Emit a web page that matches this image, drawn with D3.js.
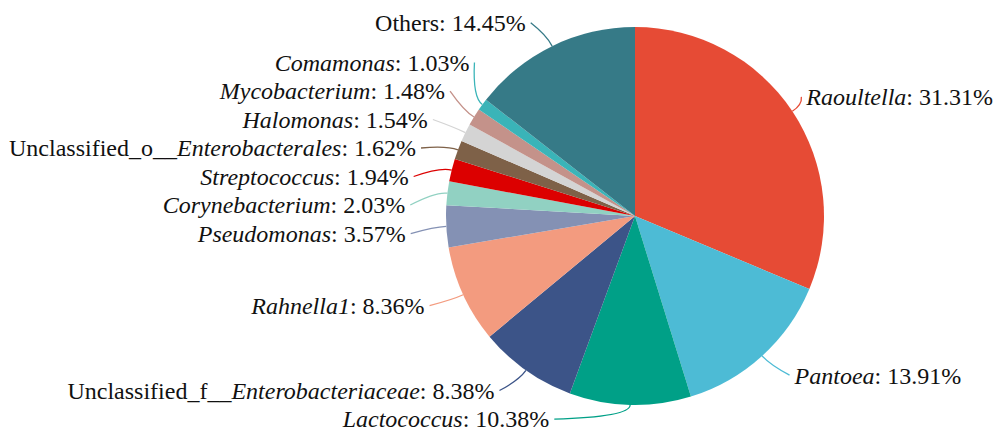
<!DOCTYPE html>
<html>
<head>
<meta charset="utf-8">
<script src="https://cdn.jsdelivr.net/npm/d3@7"></script>
<style>
  body { margin: 0; background: #fff; }
  text { font-family: "Liberation Serif", "Times New Roman", serif; }
</style>
</head>
<body>
<svg id="chart"></svg>
<script>
var width = 997, height = 431

// data, clockwise from 12 o'clock
var genera = ["Raoultella", "Pantoea", "Lactococcus", "Unclassified_f__Enterobacteriaceae",
    "Rahnella1", "Pseudomonas", "Corynebacterium", "Streptococcus",
    "Unclassified_o__Enterobacterales", "Halomonas", "Mycobacterium", "Comamonas", "Others"]
var percents = [31.31, 13.91, 10.38, 8.38, 8.36, 3.57, 2.03, 1.94, 1.62, 1.54, 1.48, 1.03, 14.45]
var colors = ["#E64B35", "#4DBBD5", "#00A087", "#3C5488", "#F39B7F", "#8491B4", "#91D1C2",
    "#DC0000", "#7E6148", "#D4D4D4", "#C4928A", "#3AB4B8", "#367A87"]

var cx = 635, cy = 216, r = 189
var labelR = 215, len1 = 12, len2 = 15, gap = 28.5
var fontSize = 24

var svg = d3.select("#chart")
    .attr("width", width)
    .attr("height", height)

var pie = d3.pie().sort(null).value(function(d) { return d })
var arcs = pie(percents)
var arc = d3.arc().innerRadius(0).outerRadius(r)

var g = svg.append("g").attr("transform", "translate(" + cx + "," + cy + ")")

g.selectAll("path.slice")
    .data(arcs)
    .enter()
    .append("path")
        .attr("class", "slice")
        .attr("d", arc)
        .attr("fill", function(d, i) { return colors[i] })

// label layout
var labels = arcs.map(function(d, i) {
    var a = (d.startAngle + d.endAngle) / 2
    return {
        i: i,
        a: a,
        left: Math.sin(a) < 0,
        y0: -labelR * Math.cos(a)
    }
})

// push overlapping labels apart, moving them as little as possible
function spread(items) {
    var top = 14 - cy, bottom = 418 - cy
    items.sort(function(a, b) { return a.y0 - b.y0 })
    var blocks = []
    items.forEach(function(it) {
        var y = Math.max(top, Math.min(bottom, it.y0))
        blocks.push({ items: [it], sum: y })
        while (blocks.length > 1) {
            var a = blocks[blocks.length - 2], c = blocks[blocks.length - 1]
            var aEnd = a.sum / a.items.length + (a.items.length - 1) * gap
            if (c.sum / c.items.length - aEnd >= gap) break
            a.sum += c.sum - c.items.length * a.items.length * gap
            a.items = a.items.concat(c.items)
            blocks.pop()
        }
    })
    blocks.forEach(function(b) {
        var start = b.sum / b.items.length
        b.items.forEach(function(it, k) { it.y = start + k * gap })
    })
}
spread(labels.filter(function(d) { return d.left }))
spread(labels.filter(function(d) { return !d.left }))

var txt = g.selectAll("text.lab")
    .data(labels)
    .enter()
    .append("text")
        .attr("class", "lab")
        .attr("y", function(d) { return d.y })
        .attr("dy", "0.35em")
        .attr("text-anchor", function(d) { return d.left ? "end" : "start" })
        .style("font-size", fontSize + "px")
        .attr("fill", "#111")

txt.each(function(d) {
    var name = genera[d.i], t = d3.select(this)
    var plain = "", ital = name
    if (name == "Others") { plain = name; ital = "" }
    else if (name.indexOf("__") > 0) {
        plain = name.slice(0, name.indexOf("__") + 2)
        ital = name.slice(name.indexOf("__") + 2)
    }
    if (plain) t.append("tspan").text(plain)
    if (ital) t.append("tspan").style("font-style", "italic").text(ital)
    t.append("tspan").text(": " + percents[d.i].toFixed(2) + "%")

    // x on an ellipse around the pie, kept inside the canvas
    var w = this.getComputedTextLength()
    var dx = Math.sqrt(Math.max(0, labelR * labelR - d.y * d.y)) + len2
    if (d.left) dx = Math.min(dx, cx - 4 - w)
    else dx = Math.min(dx, width - cx - 4 - w)
    var s = d.left ? -1 : 1
    d.tx = s * dx
    d.lx = s * (dx - 5)
    t.attr("x", d.tx)
})

g.selectAll("path.leader")
    .data(labels)
    .enter()
    .append("path")
        .attr("class", "leader")
        .attr("fill", "none")
        .attr("stroke", function(d) { return colors[d.i] })
        .attr("stroke-width", 1.3)
        .attr("d", function(d) {
            var p0 = [r * Math.sin(d.a), -r * Math.cos(d.a)]
            var p1 = [(r + len1) * Math.sin(d.a), -(r + len1) * Math.cos(d.a)]
            return "M" + p0 + "Q" + p1 + " " + [d.lx, d.y]
        })
</script>
</body>
</html>
